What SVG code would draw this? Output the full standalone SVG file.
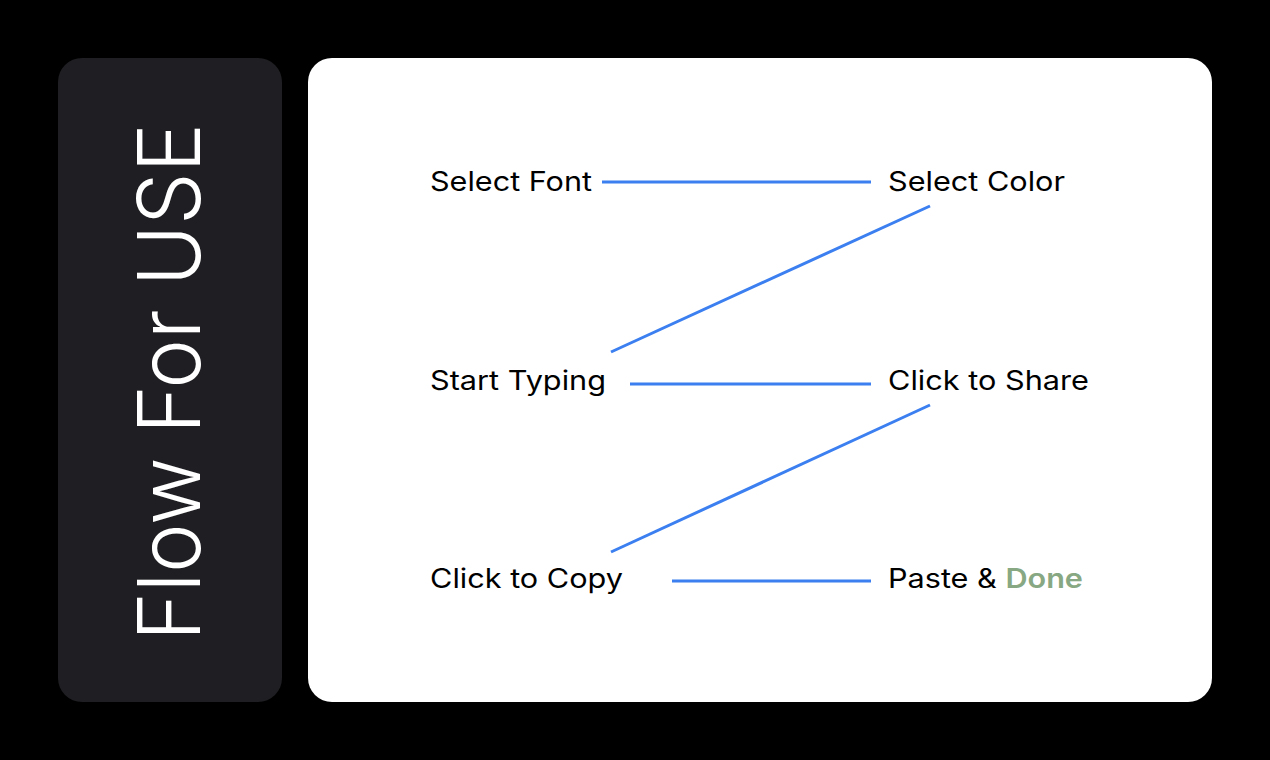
<svg xmlns="http://www.w3.org/2000/svg" width="1270" height="760" viewBox="0 0 1270 760">
<style>
.lbl{font-family:"Inter","Open Sans","Liberation Sans",sans-serif;font-size:27px;fill:#000;}
.conn line{stroke:#3b7ff0;stroke-width:3;stroke-linecap:butt;}
.title{font-family:"Inter","Open Sans","Liberation Sans",sans-serif;font-size:86px;font-weight:300;fill:#fff;}
</style>
<rect x="0" y="0" width="1270" height="760" fill="#000"/>
<g id="sidebar">
<rect x="58" y="58" width="224" height="644" rx="24" fill="#1f1f23"/>
<text class="title" transform="translate(200,641) rotate(-90)" textLength="518" lengthAdjust="spacingAndGlyphs">Flow For USE</text>
</g>
<g id="panel">
<rect x="308" y="58" width="904" height="644" rx="24" fill="#fff"/>
</g>
<g class="conn" id="connectors">
<line x1="602" y1="182" x2="871" y2="182"/>
<line x1="930" y1="206" x2="611" y2="352"/>
<line x1="630" y1="384" x2="871" y2="384"/>
<line x1="930" y1="405" x2="611" y2="552"/>
<line x1="672" y1="581" x2="871" y2="581"/>
</g>
<g id="n1"><text class="lbl" x="430" y="191" textLength="162" lengthAdjust="spacingAndGlyphs">Select Font</text></g>
<g id="n2"><text class="lbl" x="888" y="191" textLength="177" lengthAdjust="spacingAndGlyphs">Select Color</text></g>
<g id="n3"><text class="lbl" x="430" y="390" textLength="176" lengthAdjust="spacingAndGlyphs">Start Typing</text></g>
<g id="n4"><text class="lbl" x="888" y="390" textLength="201" lengthAdjust="spacingAndGlyphs">Click to Share</text></g>
<g id="n5"><text class="lbl" x="430" y="588" textLength="193" lengthAdjust="spacingAndGlyphs">Click to Copy</text></g>
<g id="n6"><text class="lbl" x="888" y="588" textLength="195" lengthAdjust="spacingAndGlyphs">Paste &amp; <tspan fill="#87a882" font-weight="600">Done</tspan></text></g>
</svg>
